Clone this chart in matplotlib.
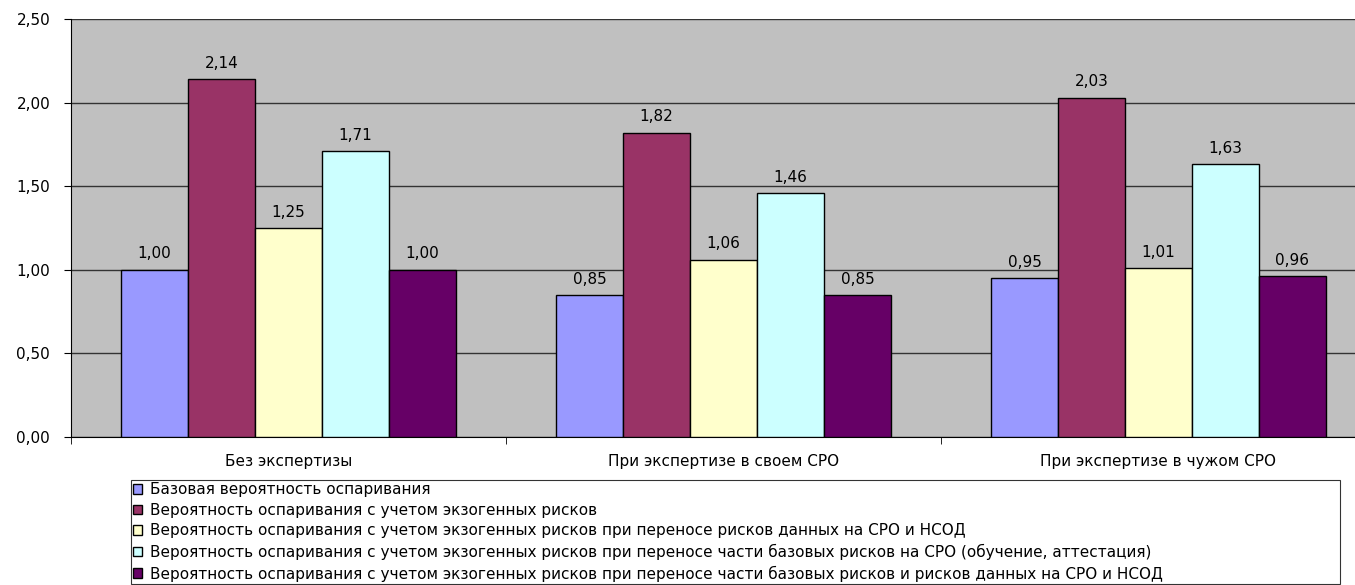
import numpy as np
import matplotlib.pyplot as plt
from matplotlib.ticker import FuncFormatter

plt.rcParams['font.family'] = ['DejaVu Sans']

categorias = ['Без экспертизы', 'При экспертизе в своем СРО', 'При экспертизе в чужом СРО']
serii = [
    'Базовая вероятность оспаривания',
    'Вероятность оспаривания с учетом экзогенных рисков',
    'Вероятность оспаривания с учетом экзогенных рисков при переносе рисков данных на СРО и НСОД',
    'Вероятность оспаривания с учетом экзогенных рисков при переносе части базовых рисков на СРО (обучение, аттестация)',
    'Вероятность оспаривания с учетом экзогенных рисков при переносе части базовых рисков и рисков данных на СРО и НСОД',
]
bazovaya = [1.00, 0.85, 0.95]
ekzogen = [2.14, 1.82, 2.03]
perenos_dannyh = [1.25, 1.06, 1.01]
perenos_bazovyh = [1.71, 1.46, 1.63]
perenos_vseh = [1.00, 0.85, 0.96]
znacheniya = [bazovaya, ekzogen, perenos_dannyh, perenos_bazovyh, perenos_vseh]
cveta = ['#9999FF', '#993366', '#FFFFCC', '#CCFFFF', '#660066']

fs = 11

fig = plt.figure(figsize=(13.55, 5.85), dpi=100)
# область построения уходит немного за правый край, как в исходнике
ax = fig.add_axes([71 / 1355, 1 - 437 / 585, 1305 / 1355, (437 - 19) / 585])
ax.set_facecolor('#C0C0C0')

x = np.arange(len(categorias))
w = 0.154
for i, (vals, c, name) in enumerate(zip(znacheniya, cveta, serii)):
    pos = x + (i - 2) * w
    bars = ax.bar(pos, vals, w, color=c, edgecolor='black', linewidth=1.0,
                  label=name, zorder=3)
    for b, v in zip(bars, vals):
        ax.text(b.get_x() + b.get_width() / 2, v + 0.05, f'{v:.2f}'.replace('.', ','),
                ha='center', va='bottom', fontsize=fs, zorder=4)

ax.set_xlim(-0.5, 2.5)
ax.set_ylim(0, 2.5)
ax.set_yticks(np.arange(0, 2.51, 0.5))
ax.yaxis.set_major_formatter(FuncFormatter(lambda v, p: f'{v:.2f}'.replace('.', ',')))
ax.grid(axis='y', color='#333333', linewidth=1.0, zorder=0)
ax.set_axisbelow(True)

ax.set_xticks(x)
ax.set_xticklabels(categorias, fontsize=fs)
ax.tick_params(axis='x', length=0, pad=12)
ax.set_xticks([-0.5, 0.5, 1.5], minor=True)
ax.tick_params(axis='x', which='minor', length=5, color='black')
ax.tick_params(axis='y', labelsize=fs, length=5, color='black', pad=10)

for s in ['top', 'right']:
    ax.spines[s].set_visible(False)
ax.spines['left'].set_color('black')
ax.spines['bottom'].set_color('black')

leg = fig.legend(loc='upper left',
                 bbox_to_anchor=(131 / 1355, 1 - 582 / 585, 1209 / 1355, 102 / 585),
                 mode='expand', fontsize=fs, frameon=True, fancybox=False,
                 borderaxespad=0, handlelength=0.6, handleheight=0.6,
                 handletextpad=0.5, labelspacing=0.36, borderpad=0.15)
leg.get_frame().set_edgecolor('black')
leg.get_frame().set_linewidth(0.8)

fig.savefig('out.png', dpi=100)
